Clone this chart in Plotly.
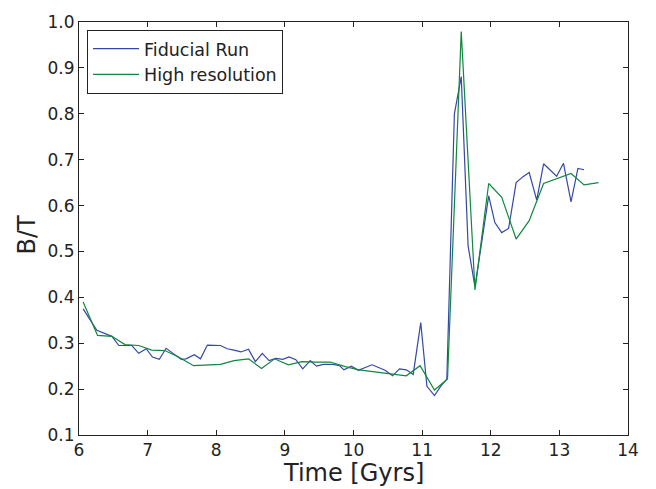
import plotly.graph_objects as go

fid_t = [6.06, 6.26, 6.48, 6.58, 6.77, 6.87, 6.98, 7.07, 7.17, 7.27, 7.36, 7.49, 7.56, 7.68, 7.77,
         7.87, 8.06, 8.16, 8.26, 8.36, 8.47, 8.57, 8.67, 8.77, 8.87, 8.97, 9.06, 9.16, 9.26, 9.37,
         9.46, 9.56, 9.70, 9.80, 9.86, 9.97, 10.07, 10.27, 10.46, 10.57, 10.67, 10.77, 10.87, 10.98,
         11.07, 11.18, 11.27, 11.36, 11.47, 11.57, 11.67, 11.77, 11.97, 12.06, 12.16, 12.26, 12.37,
         12.47, 12.56, 12.67, 12.77, 12.87, 12.96, 13.06, 13.17, 13.27, 13.36]
fid_bt = [0.375, 0.328, 0.315, 0.295, 0.295, 0.278, 0.288, 0.270, 0.265, 0.289, 0.279, 0.265, 0.266,
          0.275, 0.266, 0.296, 0.295, 0.288, 0.285, 0.281, 0.287, 0.260, 0.278, 0.262, 0.267, 0.265,
          0.270, 0.264, 0.244, 0.262, 0.250, 0.254, 0.254, 0.251, 0.242, 0.250, 0.241, 0.253, 0.241,
          0.229, 0.244, 0.242, 0.232, 0.345, 0.206, 0.186, 0.206, 0.222, 0.800, 0.881, 0.512, 0.423,
          0.621, 0.563, 0.541, 0.550, 0.650, 0.663, 0.672, 0.612, 0.691, 0.677, 0.664, 0.692, 0.608,
          0.681, 0.678]

hr_t = [6.06, 6.27, 6.48, 6.67, 6.87, 7.06, 7.25, 7.45, 7.67, 8.06, 8.26, 8.47, 8.66, 8.85, 9.05,
        9.25, 9.44, 9.66, 9.88, 10.08, 10.77, 10.97, 11.18, 11.37, 11.57, 11.77, 11.97, 12.16,
        12.37, 12.56, 12.77, 12.96, 13.17, 13.36, 13.57]
hr_bt = [0.390, 0.317, 0.315, 0.297, 0.295, 0.285, 0.284, 0.270, 0.251, 0.254, 0.262, 0.266, 0.245,
         0.266, 0.253, 0.260, 0.259, 0.259, 0.249, 0.242, 0.229, 0.251, 0.198, 0.222, 0.979, 0.416,
         0.648, 0.618, 0.527, 0.567, 0.648, 0.659, 0.670, 0.645, 0.650]

x_ticks = list(range(6, 15))
y_ticks = [round(0.1 * i, 1) for i in range(1, 11)]
x_title = "Time [Gyrs]"
y_title = "B/T"

font = "DejaVu Sans"
fig = go.Figure()
fig.add_trace(go.Scatter(x=fid_t, y=fid_bt, mode="lines", name="Fiducial Run",
                         line=dict(color="#3448a8", width=1.2)))
fig.add_trace(go.Scatter(x=hr_t, y=hr_bt, mode="lines", name="High resolution",
                         line=dict(color="#0f873d", width=1.2)))

axis_common = dict(showgrid=False, zeroline=False, showline=True, linecolor="#222", linewidth=1,
                   mirror="ticks", ticks="inside", ticklen=5, tickcolor="#222", automargin=False,
                   tickfont=dict(family=font, size=17, color="#222"))
fig.update_xaxes(range=[6, 14], tickvals=x_ticks, ticktext=[str(v) for v in x_ticks], **axis_common)
fig.update_yaxes(range=[0.1, 1.0], tickvals=y_ticks, ticktext=[f"{v:.1f}" for v in y_ticks],
                 **axis_common)
fig.add_annotation(text=x_title, xref="paper", yref="paper", x=0.5, y=0, xanchor="center",
                   yanchor="middle", yshift=-38, showarrow=False,
                   font=dict(family=font, size=24, color="#222"))
fig.add_annotation(text=y_title, xref="paper", yref="paper", x=0, y=0.5, xanchor="center",
                   yanchor="middle", xshift=-53, yshift=-6, textangle=-90, showarrow=False,
                   font=dict(family=font, size=24, color="#222"))
fig.update_layout(
    width=656, height=489, paper_bgcolor="white", plot_bgcolor="white",
    margin=dict(l=79, r=28, t=22, b=54),
    font=dict(family=font, color="#222"),
    legend=dict(x=0.0146, y=0.981, xanchor="left", yanchor="top", bordercolor="#222",
                borderwidth=1, bgcolor="white", font=dict(family=font, size=17.5, color="#222"),
                tracegroupgap=0, itemwidth=46),
)
fig.write_html("out.html")
